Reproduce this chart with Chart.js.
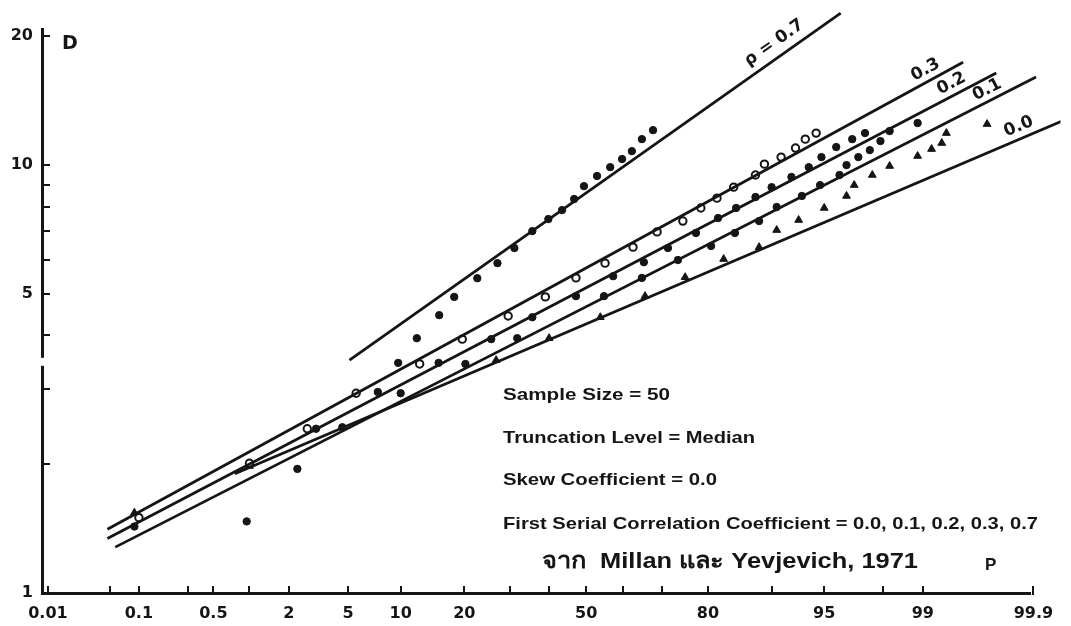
<!DOCTYPE html>
<html>
<head>
<meta charset="utf-8">
<script src="https://cdn.jsdelivr.net/npm/chart.js@4.4.1/dist/chart.umd.min.js"></script>
<style>
  html, body { margin: 0; padding: 0; background: #fff; }
  #wrap { width: 1071px; height: 626px; }
</style>
</head>
<body>
<div id="wrap"><canvas id="myChart" width="1071" height="626"></canvas></div>
<script>
// probability axis (percent) and log D axis
const tickProbs = [0.01, 0.05, 0.1, 0.3, 0.5, 1, 2, 5, 10, 20, 30, 40, 50, 60, 70, 80, 90, 95, 98, 99, 99.9];
const probLabels = ['0.01', '0.1', '0.5', '2', '5', '10', '20', '50', '80', '95', '99', '99.9'];
const dTicks = [1, 2, 3, 4, 5, 6, 7, 8, 9, 10, 20];
const dLabels = [1, 5, 10, 20];

// rho = 0.7 (filled dots)
const p07 = [0.95, 2.3, 9.7, 12.1, 15.5, 18.1, 22.6, 27.0, 31.0, 35.5, 39.7, 43.4, 46.7, 49.4, 53.0, 56.6, 59.8, 62.4, 65.0, 67.8];
const d07 = [1.47, 1.95, 3.45, 3.94, 4.46, 4.92, 5.44, 5.90, 6.40, 7.01, 7.48, 7.85, 8.33, 8.93, 9.43, 9.89, 10.33, 10.78, 11.50, 12.07];
// rho = 0.3 (open circles)
const p03 = [0.10, 1.0, 2.7, 5.6, 12.5, 19.6, 29.5, 38.9, 47.2, 55.2, 62.7, 68.8, 74.8, 78.6, 81.7, 84.6, 87.9, 89.1, 91.1, 92.6, 93.5, 94.4];
const d03 = [1.50, 2.01, 2.42, 2.93, 3.43, 3.92, 4.44, 4.92, 5.45, 5.90, 6.43, 6.98, 7.40, 7.94, 8.37, 8.88, 9.48, 10.05, 10.44, 10.96, 11.50, 11.88];
// rho = 0.2 (filled dots)
const p02 = [0.09, 3.1, 7.5, 15.4, 25.6, 35.5, 47.2, 57.4, 65.5, 71.4, 77.6, 81.9, 85.0, 87.9, 90.0, 92.2, 93.8, 94.8, 95.8, 96.7, 97.3];
const d02 = [1.43, 2.42, 2.95, 3.45, 3.92, 4.41, 4.94, 5.50, 5.93, 6.40, 6.94, 7.52, 7.94, 8.42, 8.88, 9.38, 9.89, 10.44, 11.02, 11.50, 11.88];
// rho = 0.1 (filled dots)
const p01 = [4.6, 10.0, 20.2, 31.7, 54.9, 65.0, 73.7, 80.6, 84.8, 88.4, 90.6, 93.2, 94.7, 96.0, 96.4, 97.0, 97.5, 97.9, 98.2, 98.9];
const d01 = [2.44, 2.93, 3.43, 3.94, 4.94, 5.45, 6.00, 6.47, 6.94, 7.40, 7.98, 8.47, 8.98, 9.48, 10.0, 10.44, 10.84, 11.38, 12.01, 12.54];
// rho = 0.0 (triangles)
const p00 = [0.09, 1.0, 26.7, 39.9, 53.9, 65.8, 75.3, 82.9, 88.4, 90.6, 92.9, 95.0, 96.4, 96.8, 97.6, 98.2, 98.9, 99.15, 99.30, 99.36, 99.72];
const d00 = [1.54, 1.98, 3.50, 3.94, 4.41, 4.94, 5.47, 6.03, 6.43, 7.05, 7.44, 7.94, 8.47, 8.98, 9.48, 9.95, 10.50, 10.90, 11.26, 11.88, 12.47];

// fitted lines, two end points each
const fitP07 = [5.1, 96.07],   fitD07 = [3.50, 22.65];
const fitP03 = [0.047, 99.54], fitD03 = [1.41, 17.40];
const fitP02 = [0.047, 99.77], fitD02 = [1.34, 16.41];
const fitP01 = [0.057, 99.906], fitD01 = [1.28, 16.06];
const fitP00 = [0.76, 99.955], fitD00 = [1.90, 12.81];

// line labels: text, anchor (P, D), which fit
const lineLabels = [
  ['ρ = 0.7', 90.3, 19.3, 0],
  ['0.3', 99.05, 16.7, 1],
  ['0.2', 99.42, 15.5, 2],
  ['0.1', 99.72, 15.0, 3],
  ['0.0', 99.86, 12.3, 4]
];

const noteLines = [
  'Sample Size = 50',
  'Truncation Level = Median',
  'Skew Coefficient = 0.0',
  'First Serial Correlation Coefficient = 0.0, 0.1, 0.2, 0.3, 0.7'
];
const sourceText = 'จาก  Millan และ Yevjevich, 1971';

// inverse normal (Acklam)
function probit(p) {
  const a = [-3.969683028665376e+01, 2.209460984245205e+02, -2.759285104469687e+02, 1.383577518672690e+02, -3.066479806614716e+01, 2.506628277459239e+00];
  const b = [-5.447609879822406e+01, 1.615858368580409e+02, -1.556989798598866e+02, 6.680131188771972e+01, -1.328068155288572e+01];
  const c = [-7.784894002430293e-03, -3.223964580411365e-01, -2.400758277161838e+00, -2.549732539343734e+00, 4.374664141464968e+00, 2.938163982698783e+00];
  const d = [7.784695709041462e-03, 3.224671290700398e-01, 2.445134137142996e+00, 3.754408661907416e+00];
  const pl = 0.02425;
  let q, r;
  if (p < pl) {
    q = Math.sqrt(-2 * Math.log(p));
    return (((((c[0]*q+c[1])*q+c[2])*q+c[3])*q+c[4])*q+c[5]) / ((((d[0]*q+d[1])*q+d[2])*q+d[3])*q+1);
  }
  if (p > 1 - pl) {
    q = Math.sqrt(-2 * Math.log(1 - p));
    return -(((((c[0]*q+c[1])*q+c[2])*q+c[3])*q+c[4])*q+c[5]) / ((((d[0]*q+d[1])*q+d[2])*q+d[3])*q+1);
  }
  q = p - 0.5; r = q * q;
  return (((((a[0]*r+a[1])*r+a[2])*r+a[3])*r+a[4])*r+a[5])*q / (((((b[0]*r+b[1])*r+b[2])*r+b[3])*r+b[4])*r+1);
}
const z = (pct) => probit(pct / 100);
const pts = (ps, ds) => ps.map((p, i) => ({ x: z(p), y: ds[i] }));

const ink = '#151515';
const fits = [[fitP07, fitD07], [fitP03, fitD03], [fitP02, fitD02], [fitP01, fitD01], [fitP00, fitD00]];

function lineSet(f) {
  return { data: pts(f[0], f[1]), showLine: true, borderColor: ink, borderWidth: 2.8, pointRadius: 0, clip: 30 };
}
function dotSet(ps, ds, style, filled) {
  return {
    data: pts(ps, ds), showLine: false, pointStyle: style,
    pointRadius: style === 'triangle' ? 4.5 : 3.7,
    pointBackgroundColor: filled ? ink : '#fff',
    pointBorderColor: ink, pointBorderWidth: filled ? 1 : 2
  };
}

const annot = {
  id: 'annot',
  afterDraw(chart) {
    const ctx = chart.ctx, xs = chart.scales.x, ys = chart.scales.y;
    ctx.save();
    // break in the D axis
    ctx.fillStyle = '#fff';
    ctx.fillRect(xs.left - 6, ys.getPixelForValue(3.47) - 4, 10, 8);
    ctx.fillStyle = ink;

    // curve labels, turned along their line
    lineLabels.forEach(([txt, p, d, k]) => {
      const f = fits[k];
      const x1 = xs.getPixelForValue(z(f[0][0])), y1 = ys.getPixelForValue(f[1][0]);
      const x2 = xs.getPixelForValue(z(f[0][1])), y2 = ys.getPixelForValue(f[1][1]);
      const ang = Math.atan2(y2 - y1, x2 - x1);
      ctx.save();
      ctx.translate(xs.getPixelForValue(z(p)), ys.getPixelForValue(d));
      ctx.rotate(ang);
      ctx.font = 'bold 17px "DejaVu Sans"';
      ctx.textAlign = 'center';
      ctx.textBaseline = 'middle';
      ctx.fillText(txt, 0, 0);
      ctx.restore();
    });

    // axis names
    ctx.font = 'bold 19px "DejaVu Sans"';
    ctx.textAlign = 'left';
    ctx.textBaseline = 'middle';
    ctx.fillText('D', xs.left + 20, ys.getPixelForValue(20) + 8);
    ctx.font = 'bold 17px "Liberation Sans"';
    ctx.fillText('P', 985, 565);

    // notes
    const fitText = (txt, x, y, w, font) => {
      ctx.font = font;
      const m = ctx.measureText(txt).width;
      ctx.save();
      ctx.translate(x, y);
      ctx.scale(w / m, 1);
      ctx.textAlign = 'left';
      ctx.textBaseline = 'middle';
      ctx.fillText(txt, 0, 0);
      ctx.restore();
    };
    const nx = 503, ny = [395, 438, 480, 524], nw = [167, 252, 214, 535];
    noteLines.forEach((t, i) => fitText(t, nx, ny[i], nw[i], 'bold 17px "Liberation Sans"'));
    fitText(sourceText, 542, 562, 376, 'bold 22px "Liberation Sans", "Noto Sans", sans-serif');
    ctx.restore();
  }
};

const ctx = document.getElementById('myChart').getContext('2d');
window.myChart = new Chart(ctx, {
  type: 'scatter',
  data: {
    datasets: [
      lineSet(fits[0]), lineSet(fits[1]), lineSet(fits[2]), lineSet(fits[3]), lineSet(fits[4]),
      dotSet(p07, d07, 'circle', true),
      dotSet(p03, d03, 'circle', false),
      dotSet(p02, d02, 'circle', true),
      dotSet(p01, d01, 'circle', true),
      dotSet(p00, d00, 'triangle', true)
    ]
  },
  options: {
    responsive: false,
    animation: false,
    layout: { padding: { top: 29, right: 39, left: 0, bottom: 0 } },
    plugins: { legend: { display: false }, tooltip: { enabled: false } },
    scales: {
      x: {
        type: 'linear',
        min: z(0.0085),
        max: z(99.893),
        afterFit: (s) => { s.height = 33; },
        afterBuildTicks: (s) => { s.ticks = tickProbs.map(p => ({ value: z(p) })); },
        border: { color: ink, width: 3 },
        grid: { drawOnChartArea: false, drawTicks: true, tickLength: -7, color: ink, lineWidth: 2 },
        ticks: {
          autoSkip: false, maxRotation: 0, padding: 18, color: ink,
          font: { family: 'DejaVu Sans', size: 16, weight: 'bold' },
          callback: (v, i) => probLabels.includes(String(tickProbs[i])) ? String(tickProbs[i]) : ''
        }
      },
      y: {
        type: 'logarithmic',
        min: 1,
        max: 20.8,
        afterFit: (s) => { s.width = 42; },
        afterBuildTicks: (s) => { s.ticks = dTicks.map(v => ({ value: v })); },
        border: { color: ink, width: 3 },
        grid: { drawOnChartArea: false, drawTicks: true, tickLength: -8, color: ink, lineWidth: 2 },
        ticks: {
          autoSkip: false, padding: 17, color: ink,
          font: { family: 'DejaVu Sans', size: 16, weight: 'bold' },
          callback: (v) => dLabels.includes(v) ? String(v) : ''
        }
      }
    }
  },
  plugins: [annot]
});
</script>
</body>
</html>
